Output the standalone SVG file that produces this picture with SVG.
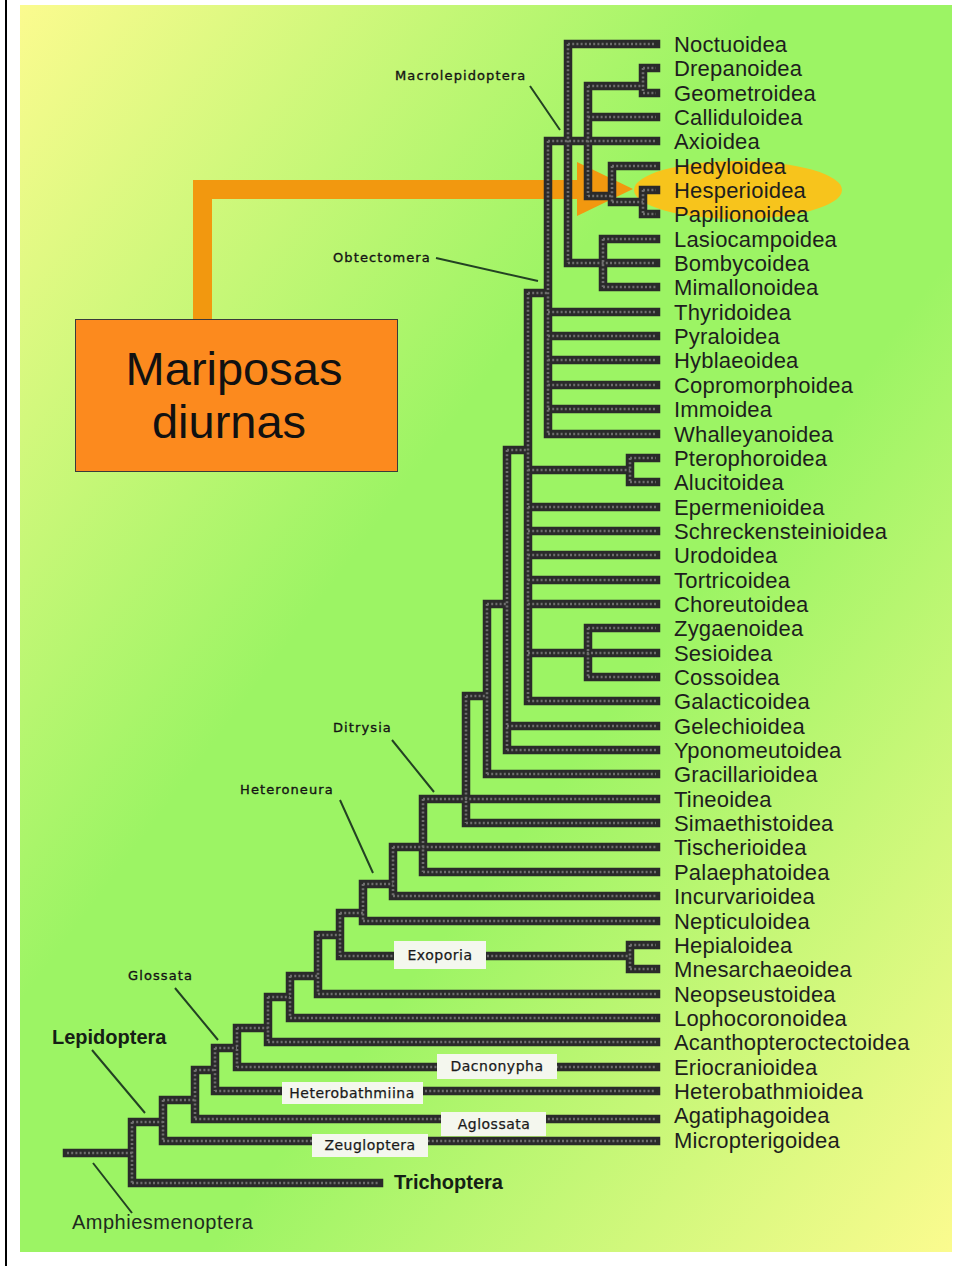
<svg xmlns="http://www.w3.org/2000/svg" xmlns:xlink="http://www.w3.org/1999/xlink" width="964" height="1266" viewBox="0 0 964 1266">
<defs>
<linearGradient id="bg" x1="0" y1="0" x2="1" y2="1">
<stop offset="0" stop-color="#fbfb8f"/>
<stop offset="0.40" stop-color="#9cf464"/>
<stop offset="0.60" stop-color="#9cf464"/>
<stop offset="1" stop-color="#fbfb8f"/>
</linearGradient>
<path id="tree" d="M568,44H656 M568,44V263 M568,263H656
M603,239V287 M603,239H656 M603,287H656
M548,141H656
M588,86V196 M588,86H643 M643,68V93 M643,68H656 M643,93H656
M588,117H656
M588,196H612 M612,166V202 M612,166H656 M612,202H643 M643,190V214 M643,190H656 M643,214H656
M548,141V434 M548,312H656 M548,336H656 M548,360H656 M548,385H656 M548,409H656 M548,434H656
M528,293H548 M528,293V701
M528,470H630 M630,458V482 M630,458H656 M630,482H656
M528,507H656 M528,531H656 M528,555H656 M528,580H656 M528,604H656 M528,653H656 M528,701H656
M588,628V677 M588,628H656 M588,677H656
M507,450H528 M507,450V750 M507,726H656 M507,750H656
M487,604H507 M487,604V774 M487,774H656
M466,696H487 M466,696V823 M466,823H656
M423,799H656 M423,799V872 M423,872H656
M393,847H656 M393,847V896 M393,896H656
M363,884H393 M363,884V921 M363,921H656
M340,913H363 M340,913V956 M340,956H630 M630,945V969 M630,945H656 M630,969H656
M318,935H340 M318,935V994 M318,994H656
M290,976H318 M290,976V1018 M290,1018H656
M268,997H290 M268,997V1042 M268,1042H656
M237,1028H268 M237,1028V1067 M237,1067H656
M215,1048H237 M215,1048V1091 M215,1091H656
M195,1070H215 M195,1070V1119 M195,1119H656
M163,1100H195 M163,1100V1141 M163,1141H656
M132,1122H163 M132,1122V1183 M132,1183H379
M67,1153H132"/>
</defs>
<style>
.base{fill:none;stroke:#2a2a2a;stroke-width:8.5;stroke-linecap:square;stroke-linejoin:miter}
.beads{fill:none;stroke:#6e6e6e;stroke-width:2.6;stroke-dasharray:2 2.2;stroke-linecap:butt}
.tx{font-family:"Liberation Sans",Arial,sans-serif;font-size:22px;letter-spacing:0.2px;fill:#1e1e1e}
.sm{font-family:"DejaVu Sans",sans-serif;font-size:13px;letter-spacing:1.1px;fill:#141414;stroke:#141414;stroke-width:0.35}
.bx{fill:#f4f7ee}
.bt{font-family:"DejaVu Sans",sans-serif;font-size:14px;letter-spacing:0.5px;fill:#1a1a1a;text-anchor:middle;stroke:#1a1a1a;stroke-width:0.25}
.lead{stroke:#234223;stroke-width:2;fill:none}
.bold{font-family:"Liberation Sans",Arial,sans-serif;font-weight:bold;font-size:20px;fill:#152015}
</style>
<rect x="0" y="0" width="964" height="1266" fill="#ffffff"/>
<rect x="5" y="0" width="2" height="1266" fill="#000000"/>
<rect x="20" y="5" width="932" height="1247" fill="url(#bg)"/>

<ellipse cx="738" cy="190" rx="104" ry="29" fill="#f7c41c"/>
<g id="arrow">
<polygon points="193,319 193,180 580,180 580,199 212,199 212,319" fill="#f2980f"/>
<polygon points="577,162 633,189 577,216" fill="#f2980f"/>
</g>

<g id="connectors">
<use xlink:href="#tree" class="base"/>
<use xlink:href="#tree" class="beads"/>
<path class="lead" d="M530,86L560,130 M436,258L538,281 M392,740L434,792 M340,800L373,873 M175,988L218,1040 M92,1050L145,1113 M93,1163L132,1213"/>
</g>

<g id="mariposas">
<rect x="75.5" y="319.5" width="322" height="152" fill="#fc8a1e" stroke="#3a3a3a" stroke-width="1"/>
<text x="234" y="385" font-family="Liberation Sans,Arial,sans-serif" font-size="47" fill="#111" text-anchor="middle">Mariposas</text>
<text x="229" y="438" font-family="Liberation Sans,Arial,sans-serif" font-size="47" fill="#111" text-anchor="middle">diurnas</text>
</g>

<g id="taxa">
<g id="t01"><text class="tx" x="674" y="52">Noctuoidea</text></g>
<g id="t02"><text class="tx" x="674" y="76">Drepanoidea</text></g>
<g id="t03"><text class="tx" x="674" y="101">Geometroidea</text></g>
<g id="t04"><text class="tx" x="674" y="125">Calliduloidea</text></g>
<g id="t05"><text class="tx" x="674" y="149">Axioidea</text></g>
<g id="t06"><text class="tx" x="674" y="174">Hedyloidea</text></g>
<g id="t07"><text class="tx" x="674" y="198">Hesperioidea</text></g>
<g id="t08"><text class="tx" x="674" y="222">Papilionoidea</text></g>
<g id="t09"><text class="tx" x="674" y="247">Lasiocampoidea</text></g>
<g id="t10"><text class="tx" x="674" y="271">Bombycoidea</text></g>
<g id="t11"><text class="tx" x="674" y="295">Mimallonoidea</text></g>
<g id="t12"><text class="tx" x="674" y="320">Thyridoidea</text></g>
<g id="t13"><text class="tx" x="674" y="344">Pyraloidea</text></g>
<g id="t14"><text class="tx" x="674" y="368">Hyblaeoidea</text></g>
<g id="t15"><text class="tx" x="674" y="393">Copromorphoidea</text></g>
<g id="t16"><text class="tx" x="674" y="417">Immoidea</text></g>
<g id="t17"><text class="tx" x="674" y="442">Whalleyanoidea</text></g>
<g id="t18"><text class="tx" x="674" y="466">Pterophoroidea</text></g>
<g id="t19"><text class="tx" x="674" y="490">Alucitoidea</text></g>
<g id="t20"><text class="tx" x="674" y="515">Epermenioidea</text></g>
<g id="t21"><text class="tx" x="674" y="539">Schreckensteinioidea</text></g>
<g id="t22"><text class="tx" x="674" y="563">Urodoidea</text></g>
<g id="t23"><text class="tx" x="674" y="588">Tortricoidea</text></g>
<g id="t24"><text class="tx" x="674" y="612">Choreutoidea</text></g>
<g id="t25"><text class="tx" x="674" y="636">Zygaenoidea</text></g>
<g id="t26"><text class="tx" x="674" y="661">Sesioidea</text></g>
<g id="t27"><text class="tx" x="674" y="685">Cossoidea</text></g>
<g id="t28"><text class="tx" x="674" y="709">Galacticoidea</text></g>
<g id="t29"><text class="tx" x="674" y="734">Gelechioidea</text></g>
<g id="t30"><text class="tx" x="674" y="758">Yponomeutoidea</text></g>
<g id="t31"><text class="tx" x="674" y="782">Gracillarioidea</text></g>
<g id="t32"><text class="tx" x="674" y="807">Tineoidea</text></g>
<g id="t33"><text class="tx" x="674" y="831">Simaethistoidea</text></g>
<g id="t34"><text class="tx" x="674" y="855">Tischerioidea</text></g>
<g id="t35"><text class="tx" x="674" y="880">Palaephatoidea</text></g>
<g id="t36"><text class="tx" x="674" y="904">Incurvarioidea</text></g>
<g id="t37"><text class="tx" x="674" y="929">Nepticuloidea</text></g>
<g id="t38"><text class="tx" x="674" y="953">Hepialoidea</text></g>
<g id="t39"><text class="tx" x="674" y="977">Mnesarchaeoidea</text></g>
<g id="t40"><text class="tx" x="674" y="1002">Neopseustoidea</text></g>
<g id="t41"><text class="tx" x="674" y="1026">Lophocoronoidea</text></g>
<g id="t42"><text class="tx" x="674" y="1050">Acanthopteroctectoidea</text></g>
<g id="t43"><text class="tx" x="674" y="1075">Eriocranioidea</text></g>
<g id="t44"><text class="tx" x="674" y="1099">Heterobathmioidea</text></g>
<g id="t45"><text class="tx" x="674" y="1123">Agatiphagoidea</text></g>
<g id="t46"><text class="tx" x="674" y="1148">Micropterigoidea</text></g>
</g>

<g id="clade-labels">
<g id="l-macro"><text class="sm" x="395" y="80">Macrolepidoptera</text></g>
<g id="l-obtect"><text class="sm" x="333" y="262">Obtectomera</text></g>
<g id="l-ditrysia"><text class="sm" x="333" y="732">Ditrysia</text></g>
<g id="l-heteroneura"><text class="sm" x="240" y="794">Heteroneura</text></g>
<g id="l-glossata"><text class="sm" x="128" y="980">Glossata</text></g>
<g id="l-lepidoptera"><text class="bold" x="52" y="1044">Lepidoptera</text></g>
<g id="l-trichoptera"><text class="bold" x="394" y="1189" font-size="21">Trichoptera</text></g>
<g id="l-amphi"><text x="72" y="1229" font-family="Liberation Sans,Arial,sans-serif" font-size="20" letter-spacing="0.5" fill="#1e2a1e">Amphiesmenoptera</text></g>
<g id="l-exoporia"><rect class="bx" x="394" y="941" width="92" height="28"/><text class="bt" x="440" y="960">Exoporia</text></g>
<g id="l-dacnonypha"><rect class="bx" x="437" y="1054" width="120" height="25"/><text class="bt" x="497" y="1071">Dacnonypha</text></g>
<g id="l-heterobathmiina"><rect class="bx" x="282" y="1082" width="141" height="22"/><text class="bt" x="352" y="1098">Heterobathmiina</text></g>
<g id="l-aglossata"><rect class="bx" x="441" y="1112" width="105" height="24"/><text class="bt" x="494" y="1129">Aglossata</text></g>
<g id="l-zeugloptera"><rect class="bx" x="312" y="1134" width="116" height="23"/><text class="bt" x="370" y="1150">Zeugloptera</text></g>
</g>
</svg>
